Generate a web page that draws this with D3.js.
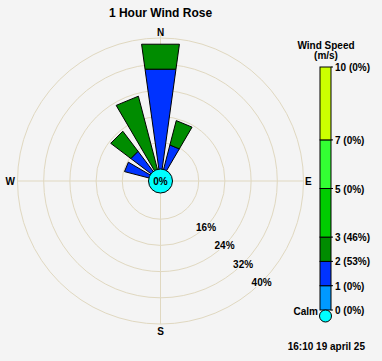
<!DOCTYPE html>
<html>
<head>
<meta charset="utf-8">
<script src="https://cdn.jsdelivr.net/npm/d3@7"></script>
<style>
  body { margin: 0; background: #f4f4f4; }
  svg { display: block; font-family: "Liberation Sans", Arial, sans-serif; font-weight: bold; }
</style>
</head>
<body>
<div id="chart"></div>
<script>
// 数据
const directions = ["N", "NNE", "NE", "ENE", "E", "ESE", "SE", "SSE", "S", "SSW", "SW", "WSW", "W", "WNW", "NW", "NNW"];
const speed1to2 = [30.8, 7.7, 0, 0, 0, 0, 0, 0, 0, 0, 0, 0, 0, 7.7, 7.7, 0];   // 蓝
const speed2to3 = [7.7, 7.7, 0, 0, 0, 0, 0, 0, 0, 0, 0, 0, 0, 0, 7.7, 23.1];    // 深绿
const ringTicks = [8, 16, 24, 32, 40];
const ringLabels = [16, 24, 32, 40];
const legendBreaks = [0, 1, 2, 3, 5, 7, 10];
const legendPct = ["0%", "0%", "53%", "46%", "0%", "0%", "0%"];
const legendColors = ["#0099ff", "#0033ff", "#008c00", "#00cc00", "#33ff33", "#ccff00"];
const calmPct = "0%";
const title = "1 Hour Wind Rose";
const stamp = "16:10 19 april 25";

const width = 382, height = 361;
const cx = 160.5, cy = 181;
const svg = d3.select("#chart").append("svg")
    .attr("width", width).attr("height", height);
svg.append("rect").attr("width", width).attr("height", height).attr("fill", "#f4f4f4");

// 半径比例尺 (calm 圆半径 12)
const r = d3.scaleLinear().domain([0, 40]).range([12, 143]);
const gridColor = "#e0d8c0";

// 标题
svg.append("text").attr("x", 160.5).attr("y", 17).attr("text-anchor", "middle")
    .attr("font-size", 12).text(title);

// 网格圆
svg.append("g").selectAll("circle").data(ringTicks).enter().append("circle")
    .attr("cx", cx).attr("cy", cy).attr("r", d => r(d))
    .attr("fill", "none").attr("stroke", gridColor).attr("stroke-width", 1);

// 十字轴
const rMax = r(40);
svg.append("line").attr("x1", cx - rMax).attr("x2", cx + rMax).attr("y1", cy).attr("y2", cy).attr("stroke", gridColor);
svg.append("line").attr("x1", cx).attr("x2", cx).attr("y1", cy - rMax - 3).attr("y2", cy + rMax).attr("stroke", gridColor);

// 方位标签
const compass = [
    { t: "N", x: cx, y: 36, a: "middle" },
    { t: "E", x: 305, y: 185, a: "start" },
    { t: "W", x: 15, y: 185, a: "end" },
    { t: "S", x: cx, y: 335, a: "middle" }
];
svg.append("g").selectAll("text").data(compass).enter().append("text")
    .attr("x", d => d.x).attr("y", d => d.y).attr("text-anchor", d => d.a)
    .attr("font-size", 10).text(d => d.t);

// 扇形 (直边多边形)
const step = 360 / directions.length;
const half = step * 0.35;
function pt(angleDeg, rad) {
    const a = angleDeg * Math.PI / 180;
    return [cx + rad * Math.sin(a), cy - rad * Math.cos(a)];
}
function wedge(angle, r0, r1) {
    return [pt(angle - half, r0), pt(angle - half, r1), pt(angle + half, r1), pt(angle + half, r0)];
}
const bars = svg.append("g");
directions.forEach((dir, i) => {
    const ang = i * step;
    let acc = 0;
    [[speed1to2[i], legendColors[1]], [speed2to3[i], legendColors[2]]].forEach(([v, c]) => {
        if (v <= 0) return;
        const r0 = acc === 0 ? 0 : r(acc);
        const r1 = r(acc + v);
        bars.append("polygon")
            .attr("points", wedge(ang, r0, r1).map(p => p.join(",")).join(" "))
            .attr("fill", c).attr("stroke", "#000").attr("stroke-width", 1);
        acc += v;
    });
});

// 环标签 (东南方向)
const lab = svg.append("g");
ringLabels.forEach(v => {
    const p = pt(135, r(v));
    const t = lab.append("text").attr("x", p[0]).attr("y", p[1] + 4)
        .attr("text-anchor", "middle").attr("font-size", 10).text(v + "%");
    const bb = t.node().getBBox();
    lab.insert("rect", () => t.node())
        .attr("x", bb.x).attr("y", bb.y + 1).attr("width", bb.width).attr("height", bb.height - 2)
        .attr("fill", "#f4f4f4");
});

// calm 圆
svg.append("circle").attr("cx", cx).attr("cy", cy).attr("r", 12)
    .attr("fill", "#00ffff").attr("stroke", "#000").attr("stroke-width", 1);
svg.append("text").attr("x", cx).attr("y", cy + 4).attr("text-anchor", "middle")
    .attr("font-size", 10).text(calmPct);

// 图例
const ly = d3.scaleLinear().domain([0, 10]).range([310, 67]);
const lx = 320, lw = 11;
svg.append("text").attr("x", 326).attr("y", 49).attr("text-anchor", "middle").attr("font-size", 10).text("Wind Speed");
svg.append("text").attr("x", 326).attr("y", 59).attr("text-anchor", "middle").attr("font-size", 10).text("(m/s)");
const leg = svg.append("g");
legendColors.forEach((c, i) => {
    leg.append("rect")
        .attr("x", lx).attr("y", ly(legendBreaks[i + 1]))
        .attr("width", lw).attr("height", ly(legendBreaks[i]) - ly(legendBreaks[i + 1]))
        .attr("fill", c).attr("stroke", "#000").attr("stroke-width", 1);
});
legendBreaks.forEach((b, i) => {
    leg.append("line").attr("x1", lx + lw).attr("x2", lx + lw + 2)
        .attr("y1", ly(b)).attr("y2", ly(b)).attr("stroke", "#000");
    leg.append("text").attr("x", 335).attr("y", ly(b) + 4)
        .attr("font-size", 10).text(b + " (" + legendPct[i] + ")");
});
leg.append("circle").attr("cx", lx + lw / 2).attr("cy", 316).attr("r", 6)
    .attr("fill", "#00ffff").attr("stroke", "#000");
leg.append("text").attr("x", 318).attr("y", 315).attr("text-anchor", "end")
    .attr("font-size", 10).text("Calm");

// 时间戳
svg.append("text").attr("x", 365).attr("y", 350).attr("text-anchor", "end")
    .attr("font-size", 10).text(stamp);
</script>
</body>
</html>
